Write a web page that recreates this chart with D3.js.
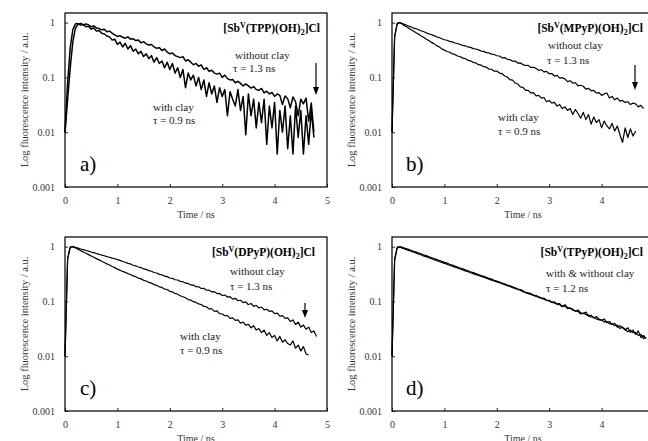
<!DOCTYPE html>
<html>
<head>
<meta charset="utf-8">
<script src="https://cdn.jsdelivr.net/npm/d3@7"></script>
<style>
  body { margin: 0; background: #fff; }
  svg { display: block; }
</style>
</head>
<body>
<div id="chart"></div>
<script>
const serif = "'Liberation Serif', 'Times New Roman', Times, serif";

// time channels (ns), shared by every decay curve
const times = [0,0.05,0.1,0.15,0.2,0.25,0.3,0.35,0.4,0.45,0.5,0.55,0.6,0.65,0.7,0.75,0.8,0.85,0.9,0.95,
  1,1.05,1.1,1.15,1.2,1.25,1.3,1.35,1.4,1.45,1.5,1.55,1.6,1.65,1.7,1.75,1.8,1.85,1.9,1.95,
  2,2.05,2.1,2.15,2.2,2.25,2.3,2.35,2.4,2.45,2.5,2.55,2.6,2.65,2.7,2.75,2.8,2.85,2.9,2.95,
  3,3.05,3.1,3.15,3.2,3.25,3.3,3.35,3.4,3.45,3.5,3.55,3.6,3.65,3.7,3.75,3.8,3.85,3.9,3.95,
  4,4.05,4.1,4.15,4.2,4.25,4.3,4.35,4.4,4.45,4.5,4.55,4.6,4.65,4.7,4.75,4.8,4.85];

// a) TPP
const aWithout = [0.01,0.04,0.15,0.45,0.8,0.93,0.97,0.9,0.95,0.91,0.84,0.87,0.8,0.78,0.74,0.76,0.68,0.7,0.64,0.6,
  0.56,0.58,0.54,0.52,0.55,0.5,0.51,0.47,0.48,0.43,0.45,0.41,0.39,0.4,0.36,0.34,0.35,0.31,0.33,0.29,
  0.27,0.28,0.25,0.24,0.23,0.24,0.2,0.21,0.19,0.17,0.18,0.16,0.17,0.14,0.15,0.13,0.135,0.12,0.115,0.12,
  0.1,0.11,0.095,0.09,0.092,0.08,0.085,0.078,0.07,0.076,0.07,0.064,0.068,0.06,0.058,0.063,0.052,0.056,0.05,0.053,
  0.045,0.05,0.047,0.032,0.046,0.041,0.028,0.044,0.036,0.02,0.04,0.033,0.042,0.016,0.034,0.01];
const aWith = [0.01,0.08,0.35,0.75,0.95,0.96,0.90,0.93,0.84,0.86,0.76,0.80,0.70,0.72,0.64,0.62,0.57,0.55,0.48,0.50,
  0.40,0.44,0.36,0.42,0.33,0.38,0.30,0.33,0.27,0.30,0.24,0.27,0.22,0.25,0.19,0.23,0.18,0.20,0.15,0.19,
  0.14,0.18,0.12,0.15,0.10,0.14,0.065,0.12,0.09,0.11,0.07,0.10,0.06,0.09,0.045,0.08,0.05,0.07,0.035,0.065,
  0.045,0.06,0.02,0.055,0.04,0.03,0.06,0.025,0.045,0.009,0.05,0.02,0.04,0.012,0.035,0.015,0.04,0.006,0.03,0.012,
  0.035,0.004,0.025,0.01,0.03,0.005,0.02,0.004,0.03,0.008,0.025,0.004,0.02,0.006,0.025,0.008];

// b) MPyP
const bWithout = [0.01,0.55,0.97,1.0,0.96,0.925,0.878,0.848,0.805,0.78,0.748,0.71,0.688,0.655,0.625,0.607,0.58,0.551,0.535,0.507,
  0.487,0.477,0.455,0.446,0.425,0.416,0.40,0.385,0.378,0.36,0.353,0.336,0.33,0.318,0.303,0.299,0.284,0.28,0.266,0.262,
  0.249,0.246,0.228,0.23,0.214,0.212,0.198,0.199,0.183,0.185,0.171,0.165,0.166,0.152,0.153,0.146,0.135,0.138,0.126,0.129,
  0.117,0.118,0.106,0.109,0.097,0.099,0.094,0.084,0.087,0.079,0.08,0.07,0.072,0.069,0.061,0.063,0.057,0.058,0.052,0.053,
  0.047,0.05,0.052,0.042,0.045,0.039,0.042,0.037,0.038,0.035,0.036,0.032,0.034,0.033,0.029,0.031,0.027];
const bWith = [0.01,0.55,0.97,1.0,0.935,0.868,0.818,0.758,0.714,0.66,0.622,0.575,0.543,0.502,0.474,0.437,0.414,0.381,0.362,0.332,
  0.315,0.297,0.288,0.27,0.263,0.246,0.241,0.225,0.22,0.205,0.201,0.188,0.184,0.171,0.168,0.157,0.154,0.142,0.141,0.13,
  0.131,0.12,0.117,0.106,0.102,0.091,0.089,0.079,0.076,0.067,0.066,0.058,0.058,0.052,0.053,0.046,0.047,0.042,0.043,0.036,
  0.038,0.034,0.035,0.03,0.032,0.027,0.029,0.025,0.027,0.021,0.026,0.022,0.018,0.023,0.017,0.021,0.014,0.019,0.015,0.017,
  0.012,0.016,0.013,0.0115,0.0145,0.0105,0.013,0.009,0.0065,0.012,0.008,0.0115,0.0085,0.0105];

// c) DPyP
const cWithout = [0.01,0.6,0.98,1.0,0.968,0.94,0.905,0.882,0.85,0.827,0.797,0.776,0.748,0.728,0.70,0.683,0.657,0.641,0.616,0.601,
  0.578,0.562,0.535,0.52,0.495,0.484,0.458,0.447,0.425,0.415,0.392,0.385,0.364,0.356,0.337,0.33,0.312,0.306,0.289,0.284,
  0.268,0.264,0.249,0.246,0.231,0.229,0.215,0.213,0.2,0.199,0.186,0.185,0.172,0.174,0.16,0.161,0.149,0.151,0.139,0.14,
  0.128,0.131,0.12,0.122,0.11,0.114,0.103,0.105,0.095,0.098,0.087,0.092,0.081,0.085,0.076,0.079,0.07,0.072,0.066,0.067,
  0.06,0.061,0.054,0.055,0.049,0.05,0.043,0.046,0.038,0.042,0.034,0.037,0.031,0.034,0.027,0.029,0.023];
const cWith = [0.01,0.6,0.98,1.0,0.945,0.895,0.845,0.8,0.755,0.715,0.675,0.64,0.605,0.574,0.54,0.514,0.484,0.462,0.433,0.414,
  0.388,0.372,0.353,0.34,0.322,0.31,0.293,0.283,0.267,0.258,0.243,0.236,0.222,0.216,0.203,0.196,0.185,0.18,0.168,0.165,
  0.153,0.149,0.14,0.135,0.127,0.122,0.117,0.108,0.106,0.099,0.096,0.09,0.088,0.081,0.08,0.073,0.073,0.066,0.067,0.06,
  0.059,0.055,0.055,0.049,0.05,0.045,0.046,0.04,0.042,0.037,0.038,0.033,0.036,0.03,0.032,0.027,0.03,0.024,0.027,0.022,
  0.024,0.019,0.023,0.018,0.02,0.017,0.016,0.019,0.014,0.016,0.0125,0.015,0.011,0.0105];

// d) TPyP
const dWithout = [0.01,0.6,0.98,1.0,0.97,0.935,0.9,0.868,0.832,0.802,0.768,0.742,0.71,0.686,0.656,0.634,0.606,0.585,0.56,0.541,
  0.517,0.5,0.477,0.462,0.441,0.426,0.408,0.393,0.377,0.363,0.348,0.335,0.322,0.31,0.297,0.287,0.275,0.264,0.255,0.244,
  0.235,0.226,0.216,0.209,0.199,0.193,0.184,0.178,0.168,0.165,0.156,0.146,0.143,0.139,0.13,0.128,0.121,0.116,0.114,0.106,
  0.105,0.097,0.098,0.09,0.091,0.081,0.087,0.077,0.076,0.072,0.066,0.07,0.062,0.06,0.064,0.055,0.056,0.05,0.053,0.048,
  0.045,0.048,0.041,0.043,0.038,0.04,0.034,0.036,0.033,0.03,0.033,0.027,0.03,0.025,0.029,0.022,0.024,0.021];
const dWith = [0.01,0.55,0.95,0.975,0.935,0.9,0.862,0.832,0.797,0.768,0.735,0.71,0.68,0.656,0.628,0.606,0.58,0.559,0.536,0.517,
  0.495,0.478,0.457,0.442,0.423,0.408,0.391,0.377,0.361,0.348,0.334,0.322,0.309,0.298,0.286,0.276,0.265,0.255,0.245,0.236,
  0.227,0.219,0.21,0.202,0.194,0.187,0.179,0.173,0.165,0.16,0.15,0.144,0.139,0.134,0.128,0.123,0.119,0.113,0.11,0.104,
  0.102,0.096,0.094,0.089,0.087,0.08,0.083,0.074,0.075,0.069,0.067,0.066,0.059,0.061,0.058,0.054,0.052,0.051,0.048,0.046,
  0.046,0.042,0.043,0.039,0.039,0.036,0.037,0.032,0.034,0.031,0.028,0.03,0.027,0.027,0.024,0.025,0.021,0.022];

const xTicks = [0, 1, 2, 3, 4, 5];
const yTicks = [1, 0.1, 0.01, 0.001];
const yTickLabels = ["1", "0.1", "0.01", "0.001"];
const compounds = ["TPP", "MPyP", "DPyP", "TPyP"];
const panelLetters = ["a)", "b)", "c)", "d)"];
const yTitle = "Log fluorescence intensity / a.u.";
const xTitle = "Time / ns";

const W = 648, H = 441;
const plotW = 262, plotH = 174;

const panels = [
  { left: 65, top: 13, series: [aWithout, aWith], width: 1.5, titleX: 255,
    notes: [["without clay", 170, 45.5], ["τ = 1.3 ns", 168, 58.5], ["with clay", 88, 97.5], ["τ = 0.9 ns", 88, 110.5]],
    arrow: [251, 50, 82] },
  { left: 392, top: 13, series: [bWithout, bWith], width: 1.2, titleX: 251,
    notes: [["without clay", 156, 35.5], ["τ = 1.3 ns", 155, 50.5], ["with clay", 106, 107.5], ["τ = 0.9 ns", 106, 121.5]],
    arrow: [243, 52, 77] },
  { left: 65, top: 237, series: [cWithout, cWith], width: 1.2, titleX: 250,
    notes: [["without clay", 165, 38], ["τ = 1.3 ns", 165, 53], ["with clay", 115, 103], ["τ = 0.9 ns", 115, 116.5]],
    arrow: [240, 66, 81] },
  { left: 392, top: 237, series: [dWithout, dWith], width: 1.2, titleX: 251,
    notes: [["with & without clay", 154, 40], ["τ = 1.2 ns", 154, 54.5]],
    arrow: null }
];

const svg = d3.select("#chart")
  .append("svg")
  .attr("width", W)
  .attr("height", H)
  .attr("font-family", serif)
  .style("overflow", "hidden");

panels.forEach(function (p, k) {
  const x = d3.scaleLinear([0, 5], [0, plotW]);
  const y = d3.scaleLog([0.001, 1.5], [plotH, 0]);

  const g = svg.append("g")
    .attr("transform", `translate(${p.left},${p.top})`)
    .attr("font-family", serif);

  // x axis, ticks pointing inward
  g.append("g")
    .attr("transform", `translate(0,${plotH})`)
    .call(d3.axisBottom(x).tickValues(xTicks).tickSize(-3).tickPadding(10).tickFormat(d3.format("d")))
    .call((a) => a.attr("font-family", serif).attr("font-size", 10))
    .call((a) => a.select(".domain").remove())
    .call((a) => a.selectAll("text").attr("fill", "#333"))
    .call((a) => a.selectAll("line").attr("stroke", "#222"));

  g.append("g")
    .call(d3.axisLeft(y).tickValues(yTicks).tickSize(-3).tickPadding(10).tickFormat((d, i) => yTickLabels[i]))
    .call((a) => a.attr("font-family", serif).attr("font-size", 10))
    .call((a) => a.select(".domain").remove())
    .call((a) => a.selectAll("text").attr("fill", "#333"))
    .call((a) => a.selectAll("line").attr("stroke", "#222"));

  // frame
  g.append("rect")
    .attr("width", plotW)
    .attr("height", plotH)
    .attr("fill", "none")
    .attr("stroke", "#111")
    .attr("stroke-width", 1.3);

  const line = d3.line()
    .x((d, i) => x(times[i]))
    .y((d) => y(d));

  p.series.forEach(function (s) {
    g.append("path")
      .attr("d", line(s))
      .attr("fill", "none")
      .attr("stroke", "#000")
      .attr("stroke-width", p.width)
      .attr("stroke-linejoin", "round");
  });

  // axis titles
  g.append("text")
    .attr("transform", `translate(-37.5,${plotH / 2}) rotate(-90)`)
    .attr("text-anchor", "middle")
    .attr("font-size", 10.5)
    .attr("fill", "#333")
    .text(yTitle);

  g.append("text")
    .attr("x", plotW / 2)
    .attr("y", plotH + 31)
    .attr("text-anchor", "middle")
    .attr("font-size", 10)
    .attr("fill", "#333")
    .text(xTitle);

  // compound title
  const t = g.append("text")
    .attr("x", p.titleX)
    .attr("y", 19)
    .attr("text-anchor", "end")
    .attr("font-size", 11.5)
    .attr("font-weight", "bold");
  t.append("tspan").text("[Sb");
  t.append("tspan").attr("font-size", 8).attr("dy", -4).text("V");
  t.append("tspan").attr("dy", 4).text(`(${compounds[k]})(OH)`);
  t.append("tspan").attr("font-size", 8).attr("dy", 3).text("2");
  t.append("tspan").attr("dy", -3).text("]Cl");

  p.notes.forEach(function (n) {
    g.append("text")
      .attr("x", n[1])
      .attr("y", n[2])
      .attr("font-size", 11)
      .attr("fill", "#222")
      .text(n[0]);
  });

  g.append("text")
    .attr("x", k % 2 ? 14 : 15)
    .attr("y", 158)
    .attr("font-size", 21)
    .text(panelLetters[k]);

  if (p.arrow) {
    const [ax, ay0, ay1] = p.arrow;
    g.append("line")
      .attr("x1", ax).attr("x2", ax)
      .attr("y1", ay0).attr("y2", ay1 - 6)
      .attr("stroke", "#000")
      .attr("stroke-width", 1.2);
    g.append("path")
      .attr("d", `M${ax - 3},${ay1 - 8}L${ax + 3},${ay1 - 8}L${ax},${ay1}Z`)
      .attr("fill", "#000");
  }
});
</script>
</body>
</html>
